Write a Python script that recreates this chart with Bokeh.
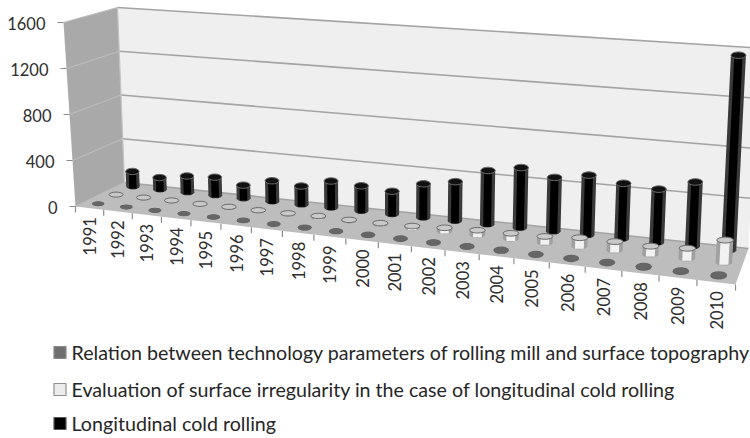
import numpy as np
from bokeh.plotting import figure
from bokeh.models import Range1d
from bokeh.core.properties import value
from bokeh.embed import file_html
from bokeh.resources import INLINE

years = [str(y) for y in range(1991, 2011)]
relation = [2, 2, 2, 2, 3, 3, 4, 3, 3, 4, 4, 3, 3, 6, 4, 4, 5, 6, 4, 6]
evaluation = [2, 3, 5, 3, 5, 4, 6, 12, 8, 10, 15, 30, 40, 45, 50, 70, 70, 65, 80, 175]
longitudinal = [135, 105, 145, 160, 115, 180, 160, 230, 215, 195, 285, 330, 450, 500, 445, 490, 450, 430, 515, 1550]
y_ticks = [0, 400, 800, 1200, 1600]
legend_labels = [
    "Relation between technology parameters of rolling mill and surface topography",
    "Evaluation of surface irregularity in the case of longitudinal cold rolling",
    "Longitudinal cold rolling",
]
FONT = "Lato"

# 3-D projection of the chart's box onto the picture
floor_c = np.array([[75, 206], [735, 284], [124, 182], [748, 248]], float)   # front L, front R, back L, back R
lift_c = np.array([[-12, -184], [15, -215], [-7, -175], [10, -200.5]], float)
VMAX = 1600.0
C = -0.152


def warp(u):
    return u * (1 + C) / (1 + C * u)


def project(u, w, v):
    u = warp(np.asarray(u, float))
    w = np.asarray(w, float)
    v = np.asarray(v, float) / VMAX
    def bil(c, k):
        return (c[0, k] * (1 - u) + c[1, k] * u) * (1 - w) + (c[2, k] * (1 - u) + c[3, k] * u) * w
    return bil(floor_c, 0) + bil(lift_c, 0) * v, bil(floor_c, 1) + bil(lift_c, 1) * v


p = figure(width=750, height=438, x_range=Range1d(0, 750), y_range=Range1d(438, 0),
           toolbar_location=None, output_backend="svg", x_axis_type=None, y_axis_type=None,
           min_border=0, outline_line_color=None, background_fill_color="white")
p.xgrid.visible = False
p.ygrid.visible = False

GRID = "#a3a3a3"


def poly(pts, **kw):
    xs = [float(a) for a, _ in pts]
    ys = [float(b) for _, b in pts]
    p.patch(xs, ys, **kw)


def seg(a, b, color=GRID, width=1.4):
    p.line([float(a[0]), float(b[0])], [float(a[1]), float(b[1])], line_color=color, line_width=width)


# walls and floor
poly([project(0, 1, 0), project(1, 1, 0), project(1, 1, VMAX), project(0, 1, VMAX)],
     fill_color="#efefef", line_color=None)
poly([project(0, 0, 0), project(0, 1, 0), project(0, 1, VMAX), project(0, 0, VMAX)],
     fill_color="#a9a9a9", line_color=None)
poly([project(0, 0, 0), project(1, 0, 0), project(1, 1, 0), project(0, 1, 0)],
     fill_color="#bdbdbd", line_color=None)

for t in y_ticks:
    seg(project(0, 1, t), project(1, 1, t), width=1.6)
    seg(project(0, 0, t), project(0, 1, t), color="#bcbcbc", width=1.2)
    fx, fy = project(0, 0, t)
    seg((fx - 6, fy), (fx, fy), color="#8c8c8c", width=1.2)
    p.text([float(fx) - 18], [float(fy) + 1], text=[str(t)], text_align="right", text_baseline="middle",
           text_font=value(FONT), text_font_size="16.5px", text_color="#2e2e2e")

seg(project(0, 1, 0), project(0, 1, VMAX), color="#c4c4c4", width=1.2)

n = len(years)
for i in range(n + 1):
    fx, fy = project(i / n, 0, 0)
    seg((fx, fy), (fx, fy + 6), color="#8c8c8c", width=1.2)
for i, yr in enumerate(years):
    fx, fy = project((i + 0.5) / n, 0, 0)
    p.text([float(fx)], [float(fy) + 9], text=[yr], angle=np.pi / 2, text_align="right", text_baseline="middle",
           text_font=value(FONT), text_font_size="16.5px", text_color="#2e2e2e")


def cylinder(vals, w, rx0, rx1, ry0, ry1, edge, cap, cap_line, core=None):
    for i, val in enumerate(vals):
        u = (i + 0.5) / n
        rx = rx0 + (rx1 - rx0) * u
        ry = ry0 + (ry1 - ry0) * u
        bx, by = project(u, w, 0)
        tx, ty = project(u, w, val)
        bx, by, tx, ty = map(float, (bx, by, tx, ty))
        poly([(bx - rx, by), (bx + rx, by), (tx + rx, ty), (tx - rx, ty)], fill_color=edge, line_color=None)
        p.ellipse([bx], [by], width=2 * rx, height=2 * ry, fill_color=edge, line_color=None)
        if core is not None:
            k = rx * 0.55
            poly([(bx - k, by + ry * 0.75), (bx + k, by + ry * 0.75), (tx + k, ty), (tx - k, ty)],
                 fill_color=core, line_color=None)
        p.ellipse([tx], [ty], width=2 * rx, height=2 * ry, fill_color=cap, line_color=cap_line, line_width=1)


cylinder(longitudinal, 0.90, 6.7, 7.5, 3.2, 3.3, "#3a3a3a", "#111111", "#6a6a6a", core="#000000")
cylinder(evaluation, 0.55, 7.0, 8.3, 2.5, 3.0, "#a0a0a0", "#c9c9c9", "#6a6a6a", core="#f2f2f2")
cylinder(relation, 0.18, 6.0, 8.3, 2.3, 3.8, "#5f5f5f", "#666666", None)

# legend
leg_y = [352, 389, 423]
leg_fill = ["#707070", "#ececec", "#000000"]
leg_line = ["#8a8a8a", "#8f8f8f", "#555555"]
for txt, y, f, l in zip(legend_labels, leg_y, leg_fill, leg_line):
    p.rect([59.5], [y], width=12, height=12, fill_color=f, line_color=l, line_width=1.2)
    p.text([71], [y], text=[txt], text_align="left", text_baseline="middle",
           text_font=value(FONT), text_font_size="19.65px", text_color="#262626")

open("out.html", "w").write(file_html(p, INLINE))
